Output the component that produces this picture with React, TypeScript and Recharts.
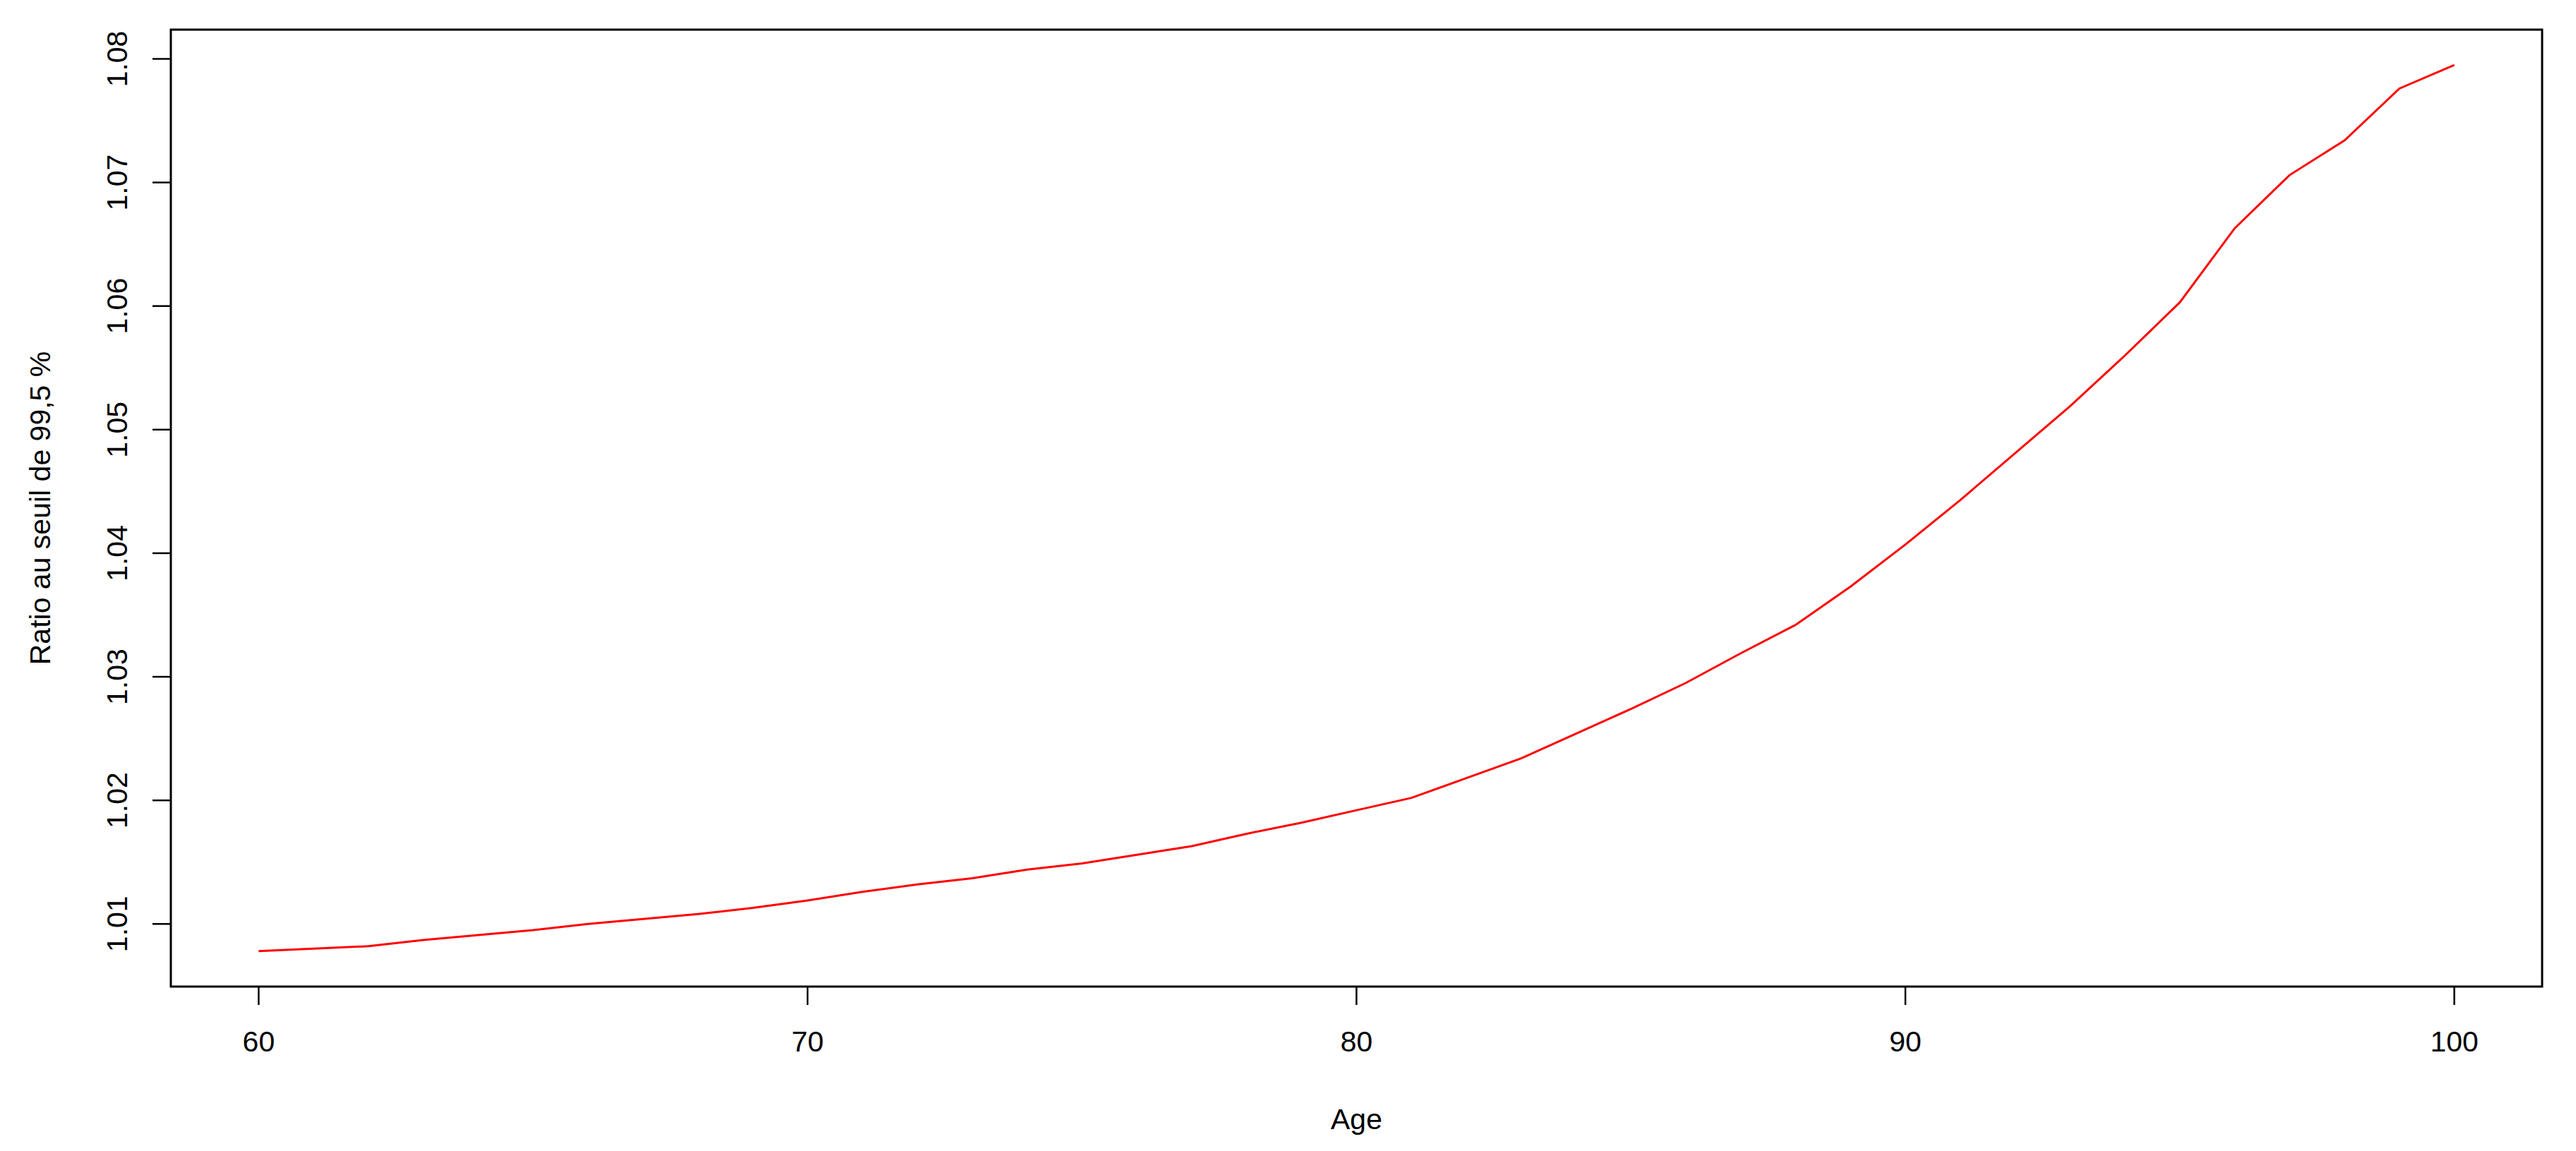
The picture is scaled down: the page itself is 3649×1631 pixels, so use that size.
import React from 'react';
import { LineChart, Line, XAxis, YAxis, ReferenceArea, Label } from 'recharts';

const ages = [
  60, 61, 62, 63, 64, 65, 66, 67, 68, 69,
  70, 71, 72, 73, 74, 75, 76, 77, 78, 79,
  80, 81, 82, 83, 84, 85, 86, 87, 88, 89,
  90, 91, 92, 93, 94, 95, 96, 97, 98, 99, 100,
];

const ratios = [
  1.0078, 1.0080, 1.0082, 1.0087, 1.0091, 1.0095, 1.0100, 1.0104, 1.0108, 1.0113,
  1.0119, 1.0126, 1.0132, 1.0137, 1.0144, 1.0149, 1.0156, 1.0163, 1.0173, 1.0182,
  1.0192, 1.0202, 1.0218, 1.0234, 1.0254, 1.0274, 1.0295, 1.0319, 1.0342, 1.0373,
  1.0407, 1.0443, 1.0481, 1.0519, 1.0560, 1.0603, 1.0663, 1.0706, 1.0734, 1.0776, 1.0795,
];

const xTicks = [60, 70, 80, 90, 100];
const yTicks = [1.01, 1.02, 1.03, 1.04, 1.05, 1.06, 1.07, 1.08];
const xTitle = 'Age';
const yTitle = 'Ratio au seuil de 99,5 %';

const data = ages.map((a, i) => ({ age: a, ratio: ratios[i] }));

const xMin = Math.min(...ages);
const xMax = Math.max(...ages);
const xPad = (xMax - xMin) * 0.04;
const yMin = Math.min(...ratios);
const yMax = Math.max(...ratios);
const yPad = (yMax - yMin) * 0.04;
const xDomain: [number, number] = [xMin - xPad, xMax + xPad];
const yDomain: [number, number] = [yMin - yPad, yMax + yPad];

const FONT = '"Liberation Sans", Arial, sans-serif';
const FS = 41;

const XTick = (props: any) => {
  const { x, y, payload } = props;
  return (
    <text x={x} y={y} textAnchor="middle" fontFamily={FONT} fontSize={FS} fill="#000">
      {String(payload.value)}
    </text>
  );
};

const YTick = (props: any) => {
  const { x, y, payload } = props;
  return (
    <text
      x={x}
      y={y}
      transform={`rotate(-90, ${x}, ${y})`}
      textAnchor="middle"
      fontFamily={FONT}
      fontSize={FS}
      fill="#000"
    >
      {Number(payload.value).toFixed(2)}
    </text>
  );
};

const XTitle = (props: any) => {
  const vb = props.viewBox || {};
  const cx = vb.x + vb.width / 2;
  const cy = vb.y + 202;
  return (
    <text x={cx} y={cy} textAnchor="middle" fontFamily={FONT} fontSize={FS} fill="#000">
      {xTitle}
    </text>
  );
};

const YTitle = (props: any) => {
  const vb = props.viewBox || {};
  const cx = vb.x + 71;
  const cy = vb.y + vb.height / 2;
  return (
    <text
      x={cx}
      y={cy}
      transform={`rotate(-90, ${cx}, ${cy})`}
      textAnchor="middle"
      fontFamily={FONT}
      fontSize={FS}
      fill="#000"
    >
      {yTitle}
    </text>
  );
};

export default function App() {
  return (
    <div style={{ position: 'absolute', left: 0, top: 0, width: 3649, height: 1631, background: '#fff' }}>
      <LineChart
        width={3649}
        height={1631}
        data={data}
        margin={{ top: 42, right: 48, bottom: 0, left: 0 }}
      >
        <XAxis
          dataKey="age"
          type="number"
          domain={xDomain}
          allowDataOverflow
          ticks={xTicks}
          height={233}
          axisLine={false}
          tickLine={{ stroke: '#000', strokeWidth: 2.5 }}
          tickSize={26}
          tickMargin={66}
          tick={<XTick />}
          interval={0}
        >
          <Label content={<XTitle />} />
        </XAxis>
        <YAxis
          type="number"
          domain={yDomain}
          allowDataOverflow
          ticks={yTicks}
          width={242}
          axisLine={false}
          tickLine={{ stroke: '#000', strokeWidth: 2.5 }}
          tickSize={26}
          tickMargin={36}
          tick={<YTick />}
          interval={0}
        >
          <Label content={<YTitle />} />
        </YAxis>
        <Line
          type="linear"
          dataKey="ratio"
          stroke="#FF0000"
          strokeWidth={3}
          dot={false}
          activeDot={false}
          isAnimationActive={false}
        />
        <ReferenceArea
          x1={xDomain[0]}
          x2={xDomain[1]}
          y1={yDomain[0]}
          y2={yDomain[1]}
          fill="none"
          fillOpacity={0}
          stroke="#000"
          strokeWidth={3}
          ifOverflow="visible"
        />
      </LineChart>
    </div>
  );
}
